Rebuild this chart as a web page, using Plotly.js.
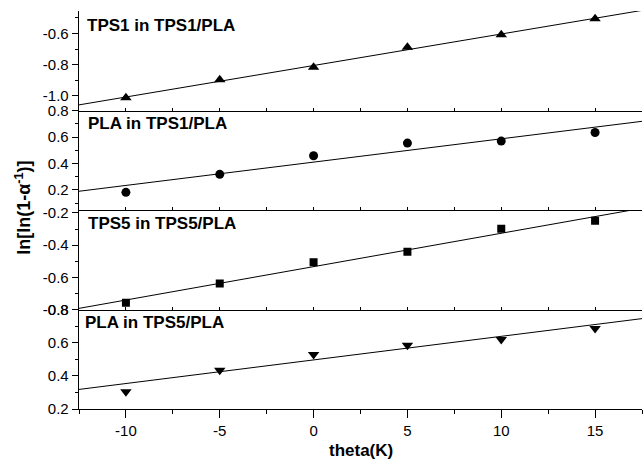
<!DOCTYPE html>
<html>
<head>
<meta charset="utf-8">
<script src="https://cdn.plot.ly/plotly-3.0.1.min.js"></script>
<style>html,body{margin:0;padding:0;background:#fff;}#chart{width:643px;height:460px;}</style>
</head>
<body>
<div id="chart"></div>
<script>
// Data
const theta = [-10, -5, 0, 5, 10, 15];
const tps1InTps1 = [-1.013, -0.897, -0.817, -0.688, -0.608, -0.505];
const plaInTps1 = [0.182, 0.318, 0.459, 0.555, 0.570, 0.635];
const tps5InTps5 = [-0.758, -0.638, -0.506, -0.442, -0.299, -0.249];
const plaInTps5 = [0.304, 0.434, 0.529, 0.584, 0.619, 0.685];
const fitX = [-12.5, 17.5];
const fitTps1 = [-1.058, -0.452];
const fitPla1 = [0.19, 0.72];
const fitTps5 = [-0.793, -0.171];
const fitPla5 = [0.318, 0.745];
const panelLabels = ["TPS1 in TPS1/PLA", "PLA in TPS1/PLA", "TPS5 in TPS5/PLA", "PLA in TPS5/PLA"];
const xTitle = "theta(K)";
const yTitle = "ln[ln(1-α<sup>-1</sup>)]";
// Tick labels
const xTickVals = [-10, -5, 0, 5, 10, 15];
const xTickText = ["-10", "-5", "0", "5", "10", "15"];
const yTickValsTps1 = [-1.0, -0.8, -0.6];
const yTickTextTps1 = ["-1.0", "-0.8", "-0.6"];
const yTickValsPla1 = [0.2, 0.4, 0.6, 0.8];
const yTickTextPla1 = ["0.2", "0.4", "0.6", "0.8"];
const yTickValsTps5 = [-0.8, -0.6, -0.4, -0.2];
const yTickTextTps5 = ["-0.8", "-0.6", "-0.4", "-0.2"];
const yTickValsPla5 = [0.2, 0.4, 0.6, 0.8];
const yTickTextPla5 = ["0.2", "0.4", "0.6", "0.8"];

const FONT = "Liberation Sans, Arial, Helvetica, sans-serif";
const panels = [
  {x: 'x4', y: 'y4', pts: tps1InTps1, fit: fitTps1, sym: 'triangle-up', size: 10},
  {x: 'x3', y: 'y3', pts: plaInTps1, fit: fitPla1, sym: 'circle', size: 9},
  {x: 'x2', y: 'y2', pts: tps5InTps5, fit: fitTps5, sym: 'square', size: 8},
  {x: 'x', y: 'y', pts: plaInTps5, fit: fitPla5, sym: 'triangle-down', size: 10}
];
const traces = [];
panels.forEach(p => {
  traces.push({x: fitX, y: p.fit, xaxis: p.x, yaxis: p.y, mode: 'lines',
    line: {color: '#000', width: 1}, hoverinfo: 'skip'});
  traces.push({x: theta, y: p.pts, xaxis: p.x, yaxis: p.y, mode: 'markers',
    marker: {symbol: p.sym, size: p.size, color: '#000'}});
});

function innerX(anchor) {
  return {range: [-12.5, 17.5], anchor: anchor, matches: 'x', showline: true, linecolor: '#000', linewidth: 1.3,
    ticks: 'inside', ticklen: 3, tickwidth: 1, tickcolor: '#000', dtick: 2.5, tick0: 0,
    showticklabels: false, showgrid: false, zeroline: false};
}
function yAx(range, domain, anchor, vals, text) {
  return {range: range, domain: domain, anchor: anchor, showline: true, linecolor: '#000', linewidth: 1.3,
    ticks: 'outside', ticklen: 6, tickwidth: 1, tickcolor: '#000',
    tickmode: 'array', tickvals: vals, ticktext: text,
    minor: {tickmode: 'linear', dtick: 0.1, tick0: 0, ticks: 'outside', ticklen: 3, tickwidth: 1, tickcolor: '#000'},
    tickfont: {family: FONT, size: 15, color: '#000'},
    showgrid: false, zeroline: false};
}

const lblFont = {family: FONT, size: 17, color: '#000', weight: 'bold'};
const layout = {
  width: 643, height: 460,
  margin: {l: 79, r: 1, t: 11, b: 51},
  paper_bgcolor: '#fff', plot_bgcolor: 'rgba(0,0,0,0)',
  showlegend: false,
  font: {family: FONT, color: '#000'},
  xaxis: {range: [-12.5, 17.5], anchor: 'y', showline: true, linecolor: '#000', linewidth: 1.3,
    ticks: 'outside', ticklen: 8, tickwidth: 1, tickcolor: '#000',
    tickmode: 'array', tickvals: xTickVals, ticktext: xTickText,
    minor: {tickmode: 'linear', dtick: 2.5, tick0: 0, ticks: 'outside', ticklen: 4, tickwidth: 1, tickcolor: '#000'},
    tickfont: {family: FONT, size: 15, color: '#000'}, showgrid: false, zeroline: false},
  xaxis2: innerX('y2'),
  xaxis3: innerX('y3'),
  xaxis4: innerX('y4'),
  yaxis: yAx([0.2, 0.8], [0, 0.25], 'x', yTickValsPla5, yTickTextPla5),
  yaxis2: yAx([-0.8, -0.182], [0.25, 0.5], 'x2', yTickValsTps5, yTickTextTps5),
  yaxis3: yAx([0.048, 0.802], [0.5, 0.75], 'x3', yTickValsPla1, yTickTextPla1),
  yaxis4: yAx([-1.094, -0.456], [0.75, 1], 'x4', yTickValsTps1, yTickTextTps1),
  annotations: [
    {text: panelLabels[0], xref: 'paper', yref: 'paper', x: 0.0107, y: 0.964, xanchor: 'left', yanchor: 'middle', showarrow: false, font: lblFont},
    {text: panelLabels[1], xref: 'paper', yref: 'paper', x: 0.0124, y: 0.718, xanchor: 'left', yanchor: 'middle', showarrow: false, font: lblFont},
    {text: panelLabels[2], xref: 'paper', yref: 'paper', x: 0.0124, y: 0.4667, xanchor: 'left', yanchor: 'middle', showarrow: false, font: lblFont},
    {text: panelLabels[3], xref: 'paper', yref: 'paper', x: 0.0066, y: 0.217, xanchor: 'left', yanchor: 'middle', showarrow: false, font: lblFont},
    {text: xTitle, xref: 'paper', yref: 'paper', x: 0.5, y: -0.1055, xanchor: 'center', yanchor: 'middle', showarrow: false, font: lblFont},
    {text: yTitle, xref: 'paper', yref: 'paper', x: -0.1, y: 0.505, xanchor: 'center', yanchor: 'middle', textangle: -90, showarrow: false, font: {family: FONT, size: 18, color: '#000', weight: 'bold'}}
  ]
};
Plotly.newPlot('chart', traces, layout, {staticPlot: true, displayModeBar: false});
</script>
</body>
</html>
